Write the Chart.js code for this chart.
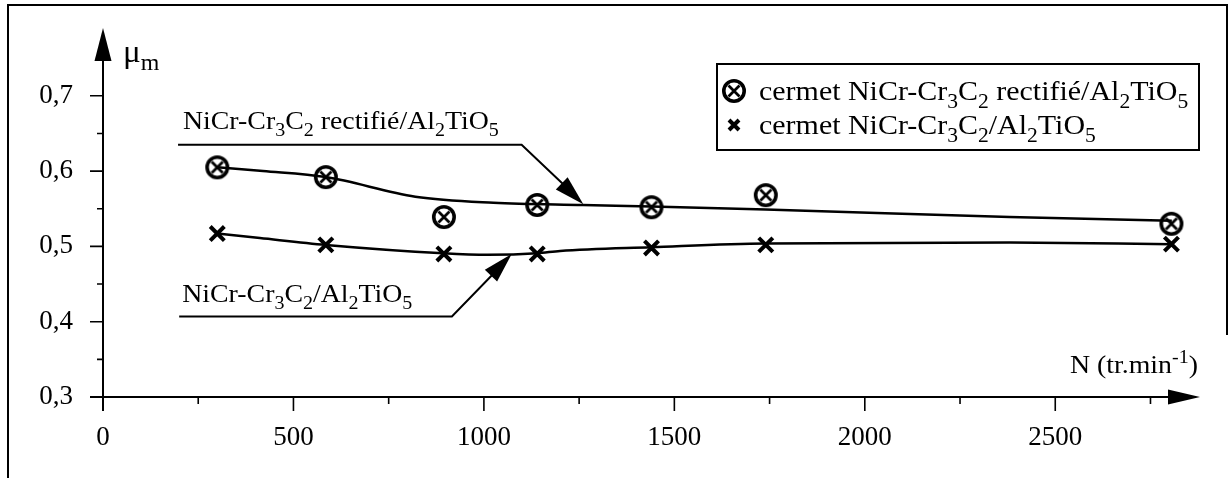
<!DOCTYPE html>
<html>
<head>
<meta charset="utf-8">
<script src="https://cdn.jsdelivr.net/npm/chart.js@4.4.0/dist/chart.umd.min.js"></script>
<style>
  html, body { margin: 0; padding: 0; background: #fff; }
  #wrap { width: 1229px; height: 478px; position: relative; }
</style>
</head>
<body>
<div id="wrap"><canvas id="frictionChart"></canvas></div>
<script>
// measured points (N in tr/min, mean friction coefficient)
const speeds = [300, 585, 895, 1140, 1440, 1740, 2805];
const muRectifie = [0.605, 0.592, 0.539, 0.555, 0.552, 0.568, 0.530];
const muBrut = [0.517, 0.502, 0.490, 0.490, 0.498, 0.502, 0.503];

// hand-drawn trend curves
const curveRectifieN = [300, 420, 585, 820, 1025, 1260, 1440, 1740, 2380, 2806];
const curveRectifieMu = [0.605, 0.600, 0.592, 0.566, 0.558, 0.555, 0.553, 0.549, 0.539, 0.534];
const curveBrutN = [300, 412, 585, 893, 1010, 1140, 1200, 1440, 1740, 2380, 2806];
const curveBrutMu = [0.517, 0.511, 0.502, 0.491, 0.489, 0.491, 0.494, 0.499, 0.504, 0.505, 0.503];

const xTickLabels = [0, 500, 1000, 1500, 2000, 2500];
const xMinorTicks = [250, 750, 1250, 1750, 2250, 2750];
const yTickLabels = [0.3, 0.4, 0.5, 0.6, 0.7];
const yMinorTicks = [0.35, 0.45, 0.55, 0.65];

const legendLabels = ['cermet NiCr-Cr_3C_2 rectifié/Al_2TiO_5', 'cermet NiCr-Cr_3C_2/Al_2TiO_5'];
const curveLabels = ['NiCr-Cr_3C_2 rectifié/Al_2TiO_5', 'NiCr-Cr_3C_2/Al_2TiO_5'];
const xTitle = 'N (tr.min^{-1})';
const yTitle = 'μ_m';

const FONT = '"Liberation Serif", "Times New Roman", serif';
const STRETCH = 1.07;

function zip(xs, ys) { return xs.map((x, i) => ({ x: x, y: ys[i] })); }

// ⊗ marker
function makeOtimes() {
  const c = document.createElement('canvas');
  c.width = 30; c.height = 30;
  const g = c.getContext('2d');
  g.strokeStyle = '#000';
  g.lineWidth = 3.6;
  g.beginPath(); g.arc(15, 15, 10.2, 0, Math.PI * 2); g.stroke();
  g.lineWidth = 2.8;
  g.beginPath();
  g.moveTo(9.5, 9.5); g.lineTo(20.5, 20.5);
  g.moveTo(20.5, 9.5); g.lineTo(9.5, 20.5);
  g.stroke();
  return c;
}
const otimes = makeOtimes();

// text with _x subscripts and ^{..} superscripts
function parseRich(str) {
  const segs = [];
  let buf = '', i = 0;
  while (i < str.length) {
    const c = str[i];
    if (c === '_' || c === '^') {
      if (buf) { segs.push({ t: buf, k: 'n' }); buf = ''; }
      let t;
      if (str[i + 1] === '{') { const j = str.indexOf('}', i); t = str.slice(i + 2, j); i = j + 1; }
      else { t = str[i + 1]; i += 2; }
      segs.push({ t: t, k: c === '_' ? 'sub' : 'sup' });
    } else { buf += c; i++; }
  }
  if (buf) segs.push({ t: buf, k: 'n' });
  return segs;
}

function drawRich(ctx, str, x, y, size) {
  const segs = parseRich(str);
  ctx.save();
  ctx.translate(x, y);
  ctx.scale(STRETCH, 1);
  ctx.fillStyle = '#000';
  ctx.textBaseline = 'alphabetic';
  ctx.textAlign = 'left';
  let cx = 0;
  segs.forEach(s => {
    const fs = s.k === 'n' ? size : size * 0.72;
    const dy = s.k === 'sub' ? size * 0.27 : (s.k === 'sup' ? -size * 0.38 : 0);
    ctx.font = fs + 'px ' + FONT;
    ctx.fillText(s.t, cx, dy);
    cx += ctx.measureText(s.t).width;
  });
  ctx.restore();
}

function arrowHead(ctx, fx, fy, tx, ty, len, half) {
  const a = Math.atan2(ty - fy, tx - fx);
  ctx.beginPath();
  ctx.moveTo(tx, ty);
  ctx.lineTo(tx - len * Math.cos(a) + half * Math.sin(a), ty - len * Math.sin(a) - half * Math.cos(a));
  ctx.lineTo(tx - len * Math.cos(a) - half * Math.sin(a), ty - len * Math.sin(a) + half * Math.cos(a));
  ctx.closePath();
  ctx.fill();
}

const figurePlugin = {
  id: 'figure',
  afterDraw(chart) {
    const ctx = chart.ctx;
    const xs = chart.scales.x, ys = chart.scales.y;
    const X = v => xs.getPixelForValue(v), Y = v => ys.getPixelForValue(v);
    const x0 = X(0), y0 = Y(0.3);
    ctx.save();
    ctx.strokeStyle = '#000';
    ctx.fillStyle = '#000';
    ctx.lineWidth = 2;

    // axes with arrows
    ctx.beginPath();
    ctx.moveTo(x0, y0 + 14); ctx.lineTo(x0, ys.top + 4);
    ctx.moveTo(x0 - 13, y0); ctx.lineTo(xs.right - 4, y0);
    ctx.stroke();
    arrowHead(ctx, x0, y0, x0, ys.top, 33, 8.5);
    arrowHead(ctx, x0, y0, xs.right, y0, 32, 7.5);

    // ticks
    ctx.lineWidth = 1.6;
    ctx.beginPath();
    yTickLabels.forEach(v => { ctx.moveTo(x0 - 13, Y(v)); ctx.lineTo(x0, Y(v)); });
    yMinorTicks.forEach(v => { ctx.moveTo(x0 - 6, Y(v)); ctx.lineTo(x0, Y(v)); });
    xTickLabels.forEach(v => { ctx.moveTo(X(v), y0); ctx.lineTo(X(v), y0 + 14); });
    xMinorTicks.forEach(v => { ctx.moveTo(X(v), y0); ctx.lineTo(X(v), y0 + 7); });
    ctx.stroke();

    // axis titles
    drawRich(ctx, yTitle, x0 + 20, ys.top + 34, 31);
    drawRich(ctx, xTitle, xs.right - 130, y0 - 24, 26);

    // curve labels with leader arrows
    ctx.lineWidth = 2;
    drawRich(ctx, curveLabels[0], X(210), Y(0.656), 26);
    ctx.beginPath();
    ctx.moveTo(X(197), Y(0.635)); ctx.lineTo(X(1099), Y(0.635)); ctx.lineTo(X(1245), Y(0.565));
    ctx.stroke();
    arrowHead(ctx, X(1099), Y(0.635), X(1261), Y(0.556), 30, 8.5);

    drawRich(ctx, curveLabels[1], X(208), Y(0.426), 26);
    ctx.beginPath();
    ctx.moveTo(X(200), Y(0.407)); ctx.lineTo(X(916), Y(0.407)); ctx.lineTo(X(1060), Y(0.482));
    ctx.stroke();
    arrowHead(ctx, X(916), Y(0.407), X(1073), Y(0.490), 30, 8.5);

    // legend box
    const lx = 717, ly = 64, lw = 482, lh = 86;
    ctx.lineWidth = 2;
    ctx.strokeRect(lx, ly, lw, lh);
    ctx.drawImage(otimes, lx + 17 - 15, ly + 27 - 15);
    ctx.lineWidth = 4;
    ctx.beginPath();
    ctx.moveTo(lx + 12, ly + 56); ctx.lineTo(lx + 22, ly + 66);
    ctx.moveTo(lx + 22, ly + 56); ctx.lineTo(lx + 12, ly + 66);
    ctx.stroke();
    drawRich(ctx, legendLabels[0], lx + 42, ly + 36, 28);
    drawRich(ctx, legendLabels[1], lx + 42, ly + 70, 28);

    // page frame
    ctx.lineWidth = 2;
    ctx.beginPath();
    ctx.moveTo(8, 478); ctx.lineTo(8, 5); ctx.lineTo(1227, 5); ctx.lineTo(1227, 335);
    ctx.stroke();
    ctx.restore();
  }
};

new Chart(document.getElementById('frictionChart'), {
  type: 'scatter',
  data: {
    datasets: [
      {
        label: 'courbe rectifié',
        data: zip(curveRectifieN, curveRectifieMu),
        showLine: true, pointRadius: 0, borderColor: '#000', borderWidth: 2.5,
        cubicInterpolationMode: 'monotone'
      },
      {
        label: 'courbe brut',
        data: zip(curveBrutN, curveBrutMu),
        showLine: true, pointRadius: 0, borderColor: '#000', borderWidth: 2.5,
        cubicInterpolationMode: 'monotone'
      },
      {
        label: 'cermet NiCr-Cr3C2 rectifié/Al2TiO5',
        data: zip(speeds, muRectifie),
        pointStyle: otimes, pointRadius: 13
      },
      {
        label: 'cermet NiCr-Cr3C2/Al2TiO5',
        data: zip(speeds, muBrut),
        pointStyle: 'crossRot', pointRadius: 10, borderWidth: 4, borderColor: '#000'
      }
    ]
  },
  options: {
    responsive: true,
    maintainAspectRatio: false,
    animation: false,
    layout: { padding: { top: 28, right: 29, bottom: 0, left: 0 } },
    plugins: { legend: { display: false }, tooltip: { enabled: false } },
    scales: {
      x: {
        type: 'linear', min: 0, max: 2880,
        afterBuildTicks: s => { s.ticks = xTickLabels.map(v => ({ value: v })); },
        afterFit: s => { s.height = 81; s.paddingLeft = 0; s.paddingRight = 0; },
        grid: { display: false }, border: { display: false },
        ticks: {
          color: '#000', font: { family: FONT, size: 27 }, padding: 17, maxRotation: 0, autoSkip: false,
          callback: v => String(v)
        }
      },
      y: {
        type: 'linear', min: 0.3, max: 0.79,
        afterBuildTicks: s => { s.ticks = yTickLabels.map(v => ({ value: v })); },
        afterFit: s => { s.width = 103; s.paddingTop = 0; s.paddingBottom = 0; },
        grid: { display: false }, border: { display: false },
        ticks: {
          color: '#000', font: { family: FONT, size: 27 }, padding: 22,
          callback: v => v.toFixed(1).replace('.', ',')
        }
      }
    }
  },
  plugins: [figurePlugin]
});
</script>
</body>
</html>
